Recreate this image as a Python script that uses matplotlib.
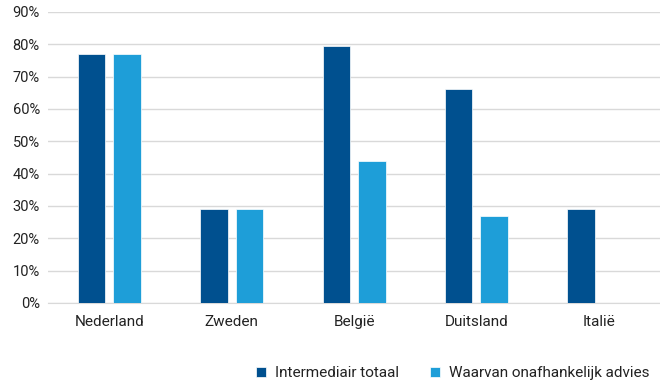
import numpy as np
import matplotlib.pyplot as plt
from matplotlib.ticker import PercentFormatter

plt.rcParams['font.family'] = ['Roboto', 'DejaVu Sans']

landen = ['Nederland', 'Zweden', 'België', 'Duitsland', 'Italië']
intermediair_totaal = [77, 29, 79.5, 66, 29]
onafhankelijk_advies = [77, 29, 44, 27, 0]

donker = '#00508F'
licht = '#1E9ED8'

fig = plt.figure(figsize=(6.6, 3.83), dpi=100)
ax = fig.add_axes([0.073, 0.209, 0.927, 0.76])

x = np.arange(len(landen))
w = 0.225
off = 0.145
ax.bar(x - off, intermediair_totaal, w, color=donker, edgecolor='white', linewidth=0.5,
       label='Intermediair totaal', zorder=3)
ax.bar(x + off, onafhankelijk_advies, w, color=licht, edgecolor='white', linewidth=0.5,
       label='Waarvan onafhankelijk advies', zorder=3)

ax.set_xlim(-0.5, len(landen) - 0.5)
ax.set_ylim(0, 90)
ax.set_yticks(range(0, 91, 10))
ax.yaxis.set_major_formatter(PercentFormatter(decimals=0))
ax.set_xticks(x)
ax.set_xticklabels(landen)
ax.grid(axis='y', color='#D9D9D9', linewidth=1, zorder=0)
for s in ['top', 'right', 'left']:
    ax.spines[s].set_visible(False)
ax.spines['bottom'].set_color('#D9D9D9')
ax.tick_params(axis='both', length=0, colors='#404040', labelcolor='#222222')
ax.tick_params(axis='x', pad=9, labelsize=11)
ax.tick_params(axis='y', pad=6, labelsize=10.5)

fig.legend(loc='lower right', bbox_to_anchor=(1.005, -0.028), ncol=2, frameon=False,
           fontsize=11, handlelength=0.65, handleheight=0.65, columnspacing=2.0,
           handletextpad=0.6, labelcolor='#222222')

fig.savefig('out.png', dpi=100)
